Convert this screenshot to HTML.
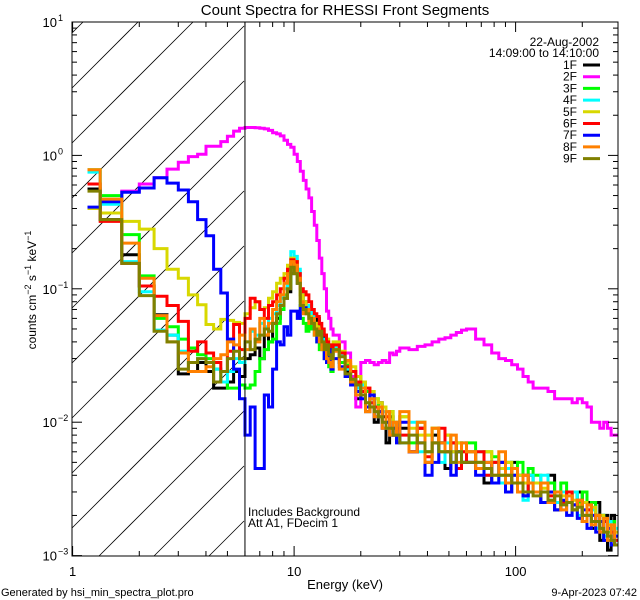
<!DOCTYPE html>
<html><head><meta charset="utf-8"><style>
html,body{margin:0;padding:0;background:#fff;width:640px;height:600px;overflow:hidden;}
svg{display:block;font-family:"Liberation Sans",sans-serif;overflow:hidden;}
</style></head><body>
<svg id="chart" width="640" height="600" viewBox="0 0 640 600" xmlns="http://www.w3.org/2000/svg">
<defs><clipPath id="plotclip"><rect x="72" y="22" width="546" height="534"/></clipPath></defs>
<rect width="640" height="600" fill="#fff"/>
<text x="345" y="15" font-size="15" text-anchor="middle">Count Spectra for RHESSI Front Segments</text>
<g id="hatch"></g>
<g id="series" clip-path="url(#plotclip)"></g>
<g id="axes"></g>
<text x="345" y="589" font-size="13" text-anchor="middle">Energy (keV)</text>
<text transform="translate(36,290) rotate(-90)" font-size="12" text-anchor="middle">counts cm<tspan dy="-5" font-size="9">−2</tspan><tspan dy="5"> s</tspan><tspan dy="-5" font-size="9">−1</tspan><tspan dy="5"> keV</tspan><tspan dy="-5" font-size="9">−1</tspan></text>
<text x="248" y="516" font-size="12">Includes Background</text>
<text x="248" y="527" font-size="12">Att A1, FDecim 1</text>
<text x="1" y="596" font-size="11">Generated by hsi_min_spectra_plot.pro</text>
<text x="637" y="596" font-size="11" text-anchor="end">9-Apr-2023 07:42</text>
<text x="599" y="46" font-size="12" text-anchor="end">22-Aug-2002</text>
<text x="599" y="57" font-size="12" text-anchor="end">14:09:00 to 14:10:00</text>
<g id="legend"></g>
</svg>
<script>
// Data values in units of 1e-3 counts cm^-2 s^-1 keV^-1
const UNIT = 0.001;
const seriesNames = ["1F","2F","3F","4F","5F","6F","7F","8F","9F"];
const seriesColors = ["#000000","#ff00ff","#00ff00","#00ffff","#d8d800","#ff0000","#0000ff","#ff8000","#808000"];
const lowEdges = [1.167,1.333,1.667,2,2.333,2.667,3,3.333,3.667,4,4.333,4.667,5,5.333,5.667,6,6.333,6.667,7,7.333,7.667,8,8.333,8.667,9,9.333,9.667,10,10.333,10.667,11,11.333,11.667,12,12.333,12.667,13,13.333,13.667,14,14.333,14.667,15];
const highEdges = [16,17,18,19,20,21,22,23,24,25,26,27,28,29,30,33,36,39,42,45,48,51,54,57,60,66,72,78,84,90,96,102,108,114,120,130,140,150,160,170,180,190,200,210,220,230,240,250,260,270,280,290];
const s1F = [560,330,180,105,64,45,23,24,28,24,18,18,20,24,22,
 30,32,36,30,45,40,55,60,70,85,95,130,150,110,90,80,75,65,60,55,60,48,40,45,35,30,32,
 35,28,24,22,15,20,12,16,10,14,11,7,11,8,10, 9,6,9,5,8,7,4.5,7,6,5, 6,4.5,3.5,5,5,3,5,4,2.8,4, 3.5,2.5,4,2.2,3,3,2.2,3,1.8,2.5,1.6,2.5,1.3,2,1.1,2,1.2];
const s2F = [400,450,540,610,680,790,890,980,1020,1170,1170,1270,1390,1520,1600,
 1620,1620,1610,1600,1580,1540,1480,1450,1400,1300,1210,1150,1020,900,760,650,560,480,380,300,230,170,130,100,68,60,50,
 45,40,33,22,13,28,29,28,27,28,29,28,33,32,34, 36,35,37,38,40,42,43,45,47,49, 50,42,38,33,30,29,27,25,22,20, 18,18,17,15,15,15,14,15,14,13,10,10,9,10,9,8,8];
const s3F = [780,500,255,125,60,52,42,36,32,30,25,20,18,18,19,
 18,19,24,30,35,40,42,55,70,90,110,140,160,120,60,55,48,65,50,45,40,35,38,30,28,26,24,
 38,28,27,20,22,16,17,13,15,11,13,9,12,9,8, 11,7,10,6,9,6,8,6,7,5, 7,5,6,5.5,4,5,4,5,3.5,4.5, 4,3,3.5,3,3.5,2.5,3,2.5,3,2,2.5,2,2,1.8,1.5,1.8,1.4];
const s4F = [750,430,160,95,49,45,34,28,30,28,25,20,24,30,28,
 40,48,45,55,52,60,65,75,85,100,130,190,175,140,95,80,70,75,65,55,50,45,40,42,36,33,30,
 36,32,25,24,18,19,14,15,13,11,12,10,8,10,9, 7,10,6,8,7,5,7,5,6,7, 5,6,4,5,3.5,4.5,3.5,4,2.6,4, 3,4,2.6,2.5,3,2.5,3,2,2.5,2,2.2,1.6,2,1.4,1.8,1.2,1.6];
const s5F = [400,370,320,280,200,140,120,90,76,54,50,59,58,56,55,
 65,72,80,70,72,85,95,110,120,130,150,170,160,120,90,80,70,62,58,55,52,50,48,45,42,38,35,
 40,34,28,26,22,20,18,17,15,14,13,11,12,10,10, 11,9,8,8,9,7,8,6,7,6, 6,5,6,5,4.5,5,4,4,3.5,3.5, 3.5,3.2,3,3,2.8,3,2.6,2.4,2.5,2.2,2.3,2,2,1.8,1.7,1.6,1.5];
const s6F = [610,320,155,105,88,75,57,34,40,33,28,24,34,54,35,
 60,85,80,70,60,75,80,90,100,120,140,165,160,130,100,95,90,80,70,65,62,55,50,45,40,38,33,
 38,33,26,24,20,17,18,14,13,12,10,11,9,8,9, 8,6,9,5.5,7,9,6,7,4.5,6, 5,6,4,5,5,4,4.5,3,4,3, 3,3.5,2.8,3,2.5,3,2.4,2.6,2,2.2,1.8,2,1.6,1.8,1.4,1.5,1.3];
const s7F = [410,450,530,570,680,620,550,450,330,250,140,93,42,25,15,
 8,13,4.5,4.5,16,13,25,40,38,52,45,68,68,60,75,72,70,60,55,50,40,45,38,30,28,35,25,
 30,26,22,19,17,15,13,16,11,12,9,10,8,9,7, 10,6,7,4,5,7,6,4,6,5, 5,4,5,3.5,5,3,4,3.5,2.8,3, 3,2.5,3,2.2,2.6,2,2.4,1.9,2.2,1.6,2,1.5,1.8,1.3,1.6,1.2,1.4];
const s8F = [780,470,220,120,63,40,33,24,24,26,30,32,40,38,45,
 35,50,40,60,45,55,70,80,90,110,130,160,150,120,80,65,70,55,60,45,50,40,35,38,30,28,26,
 34,25,29,20,16,18,12,15,11,13,9,12,8,10,8, 12,6,10,5,9,7,6,8,5,7, 6,4.5,5,4,6,3.5,4.5,3,4,3.5, 3,3.5,2.5,3,2.2,2.8,2.2,2.6,1.8,2.4,1.7,2,1.5,1.9,1.3,1.7,1.2];
const s9F = [540,330,155,89,48,40,25,28,30,28,20,24,30,34,30,
 40,35,42,45,50,48,55,65,75,85,100,145,130,110,75,70,65,60,55,50,45,48,40,35,38,32,30,
 35,31,23,21,19,16,14,13,12,11,10,9,9,8,8, 7,8,7,6,7,6,6,5,6,5, 5,5,4.5,4,4,4,3.5,3.5,3,3, 2.8,3,2.6,2.8,2.4,2.5,2.2,2.3,2,2,1.8,1.8,1.6,1.5,1.4,1.3,1.2];
const seriesValues = [s1F,s2F,s3F,s4F,s5F,s6F,s7F,s8F,s9F];
const xTickLabels = ["1","10","100"];
const yTickExps = ["1","0","−1","−2","−3"];

const NS = "http://www.w3.org/2000/svg";
const X0 = 72.6, XD = 221.5, Y0 = 22, YD = 133.4;
function xs(e){ return X0 + XD*Math.log10(e); }
function ys(v){ return Y0 + YD*(1 - Math.log10(v)); }
function mk(tag, attrs, parent){ const el = document.createElementNS(NS, tag); for (const k in attrs) el.setAttribute(k, attrs[k]); parent.appendChild(el); return el; }
const edges = lowEdges.concat(highEdges);

// hatch (lines x+y=c clipped to box 72..244 x 22..556)
const hatch = document.getElementById("hatch");
for (let c = 105; c <= 820; c += 55) {
  const xa = Math.max(72, c - 556), xb = Math.min(244, c - 22);
  if (xb <= xa) continue;
  const ln = mk("line", {x1: xa, y1: c - xa, x2: xb, y2: c - xb, stroke: "#000", "stroke-width": 0.8}, hatch);
  
  
}

// series
const sg = document.getElementById("series");
seriesValues.forEach((vals, si) => {
  let d = "M" + xs(edges[0]).toFixed(1) + "," + ys(vals[0]*UNIT).toFixed(1);
  for (let i = 0; i < vals.length; i++) {
    if (i > 0) d += "V" + Math.min(556, ys(vals[i]*UNIT)).toFixed(1);
    d += "H" + Math.min(618, xs(edges[i+1])).toFixed(1);
  }
  const p = mk("path", {d: d, fill: "none", stroke: seriesColors[si], "stroke-width": 3, "stroke-linejoin": "miter"}, sg);
  
  
});

// axes
const ax = document.getElementById("axes");
const box = mk("rect", {x: 72, y: 22, width: 546, height: 534, fill: "none", stroke: "#000", "stroke-width": 1}, ax);


const vline = mk("line", {x1: xs(6), y1: 22, x2: xs(6), y2: 556, stroke: "#000", "stroke-width": 1}, ax);


for (let dec = 1; dec <= 100; dec *= 10) {
  for (let m = 1; m <= 9; m++) {
    const e = dec*m; const x = xs(e);
    if (x > 618.5) continue;
    const L = m === 1 ? 10 : 5;
    const t1 = mk("line", {x1: x, y1: 556, x2: x, y2: 556-L, stroke: "#000"}, ax);
    
    
    const t2 = mk("line", {x1: x, y1: 22, x2: x, y2: 22+L, stroke: "#000"}, ax);
    
    
  }
}
xTickLabels.forEach((lab) => {
  const t = mk("text", {x: xs(Number(lab)), y: 576, "font-size": 13, "text-anchor": "middle"}, ax);
  t.textContent = lab;
  
  
});
yTickExps.forEach((ex, i) => {
  const p = 1 - i;
  const y = ys(Math.pow(10, p));
  const tl = mk("text", {x: 57, y: y + 5, "font-size": 13, "text-anchor": "end"}, ax);
  tl.textContent = "10";
  
  
  const te = mk("text", {x: 58, y: y - 1, "font-size": 9}, ax);
  te.textContent = ex;
  
  
  if (p > -3) {
    for (let m = 1; m <= 9; m++) {
      const yy = ys(Math.pow(10, p-1)*m);
      const L = m === 1 ? 10 : 5;
      const a = mk("line", {x1: 72, y1: yy, x2: 72+L, y2: yy, stroke: "#000"}, ax);
      
      
      const b = mk("line", {x1: 618, y1: yy, x2: 618-L, y2: yy, stroke: "#000"}, ax);
      
      
    }
  }
});

// legend
const lg = document.getElementById("legend");
seriesNames.forEach((nm, i) => {
  const y = 65 + i*11.7;
  const t = mk("text", {x: 577, y: y + 4, "font-size": 12, "text-anchor": "end"}, lg);
  t.textContent = nm;
  
  
  const l = mk("line", {x1: 583, y1: y, x2: 600, y2: y, stroke: seriesColors[i], "stroke-width": 3}, lg);
  
  
});
</script>
</body></html>
